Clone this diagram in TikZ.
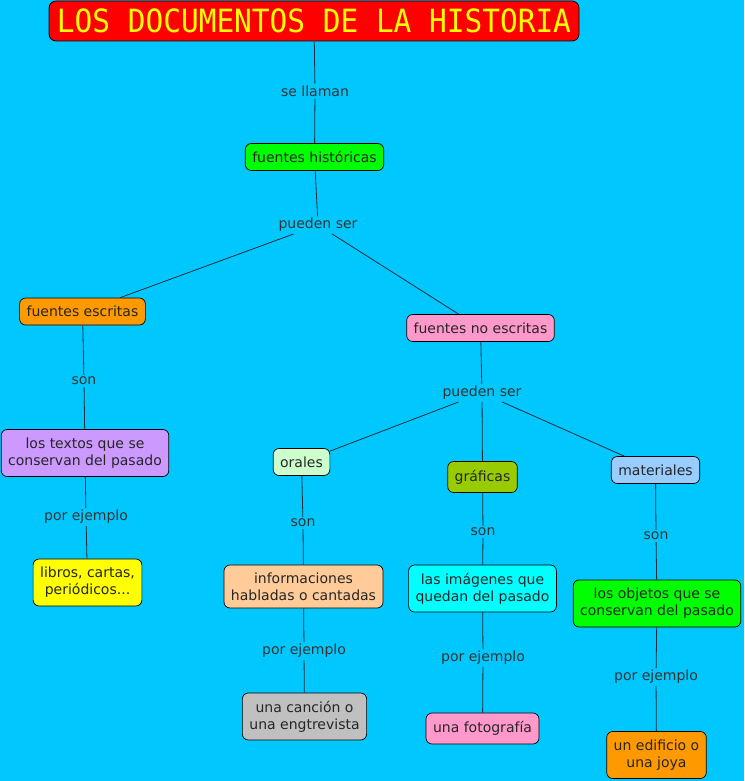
\documentclass[tikz,border=0pt]{standalone}
\usepackage{fontspec}
\setmainfont{DejaVu Sans}
\newfontfamily\titlefont[FakeStretch=0.92]{DejaVu Sans Mono}
\usepackage{xcolor}
\definecolor{mapsky}{HTML}{00C8FF}
\definecolor{mapline}{HTML}{1A2A3A}
\definecolor{cRed}{HTML}{FF0000}
\definecolor{cYellow}{HTML}{FFFF00}
\definecolor{cGreen}{HTML}{00FF00}
\definecolor{cCyan}{HTML}{00FFFF}
\definecolor{cOrange}{HTML}{FF9900}
\definecolor{cPink}{HTML}{FF99CC}
\definecolor{cLilac}{HTML}{CC99FF}
\definecolor{cMint}{HTML}{CCFFCC}
\definecolor{cOlive}{HTML}{99CC00}
\definecolor{cSky}{HTML}{99CCFF}
\definecolor{cPeach}{HTML}{FFCC99}
\definecolor{cSilver}{HTML}{C0C0C0}

\begin{document}
\begin{tikzpicture}[
      x=1pt, y=-1pt,
      concept/.style={
        draw = black,
        rounded corners = 6pt,
        align = center,
        font = \fontsize{14}{17}\selectfont,
        text = black!85,
        inner xsep = 7pt,
        inner ysep = 4pt,
        minimum height = 27pt,
        line width = .7pt,
      },
      twoline/.style={concept, minimum height = 47pt},
      tallone/.style={concept, minimum height = 31pt},
      phrase/.style={
        font = \fontsize{14}{16}\selectfont,
        text = black!80,
        inner sep = 2pt,
      },
      link/.style={draw = mapline, line width = .8pt},
      headline/.style={
        concept,
        fill = cRed,
        text = cYellow,
        rounded corners = 7pt,
        minimum width = 530pt,
        minimum height = 40pt,
        font = \titlefont\fontsize{32}{32}\selectfont,
      },
    ]
    \useasboundingbox[fill = mapsky] (0, 0) rectangle (744, 781);

    \node[headline] (title) at (314, 21) {LOS DOCUMENTOS DE LA HISTORIA};

    \node[concept, fill = cGreen] (fuentes) at (314.5, 157) {fuentes históricas};
    \node[concept, fill = cOrange] (escritas) at (82.5, 311.5) {fuentes escritas};
    \node[concept, fill = cPink] (noescritas) at (480.5, 328) {fuentes no escritas};

    \node[twoline, fill = cLilac] (textos) at (85, 453)
      {los textos que se\\conservan del pasado};
    \node[twoline, fill = cYellow] (libros) at (87.5, 582.5)
      {libros, cartas,\\periódicos...};

    \node[concept, fill = cMint] (orales) at (301.5, 462) {orales};
    \node[tallone, fill = cOlive] (graficas) at (482.5, 477) {gráficas};
    \node[concept, fill = cSky] (materiales) at (655.5, 470) {materiales};

    \node[twoline, minimum height = 43pt, fill = cPeach] (habladas) at (303.5, 586.5)
      {informaciones\\habladas o cantadas};
    \node[twoline, fill = cCyan] (imagenes) at (482.5, 588.5)
      {las imágenes que\\quedan del pasado};
    \node[twoline, fill = cGreen] (objetos) at (657, 603.5)
      {los objetos que se\\conservan del pasado};

    \node[twoline, fill = cSilver] (cancion) at (304.5, 716.5)
      {una canción o\\una engtrevista};
    \node[tallone, fill = cPink] (foto) at (482.5, 728.5) {una fotografía};
    \node[twoline, fill = cOrange] (edificio) at (656.5, 755)
      {un edificio o\\una joya};

    % linking phrases
    \node[phrase] (llaman) at (315, 91) {se llaman};
    \node[phrase] (pueden) at (318, 225) {pueden ser};
    \node[phrase] (son1) at (84, 381) {son};
    \node[phrase] (ej1) at (86, 517) {por ejemplo};
    \node[phrase] (pueden2) at (482, 393) {pueden ser};
    \node[phrase] (son2) at (303, 523) {son};
    \node[phrase] (son3) at (483, 532) {son};
    \node[phrase] (son4) at (656, 536) {son};
    \node[phrase] (ej2) at (304, 651) {por ejemplo};
    \node[phrase] (ej3) at (483, 658) {por ejemplo};
    \node[phrase] (ej4) at (656, 677) {por ejemplo};

    \draw[link] (title) -- (llaman) -- (fuentes);
    \draw[link] (fuentes) -- (pueden);
    \draw[link] (pueden) -- (escritas);
    \draw[link] (pueden) -- (noescritas);
    \draw[link] (escritas) -- (son1) -- (textos);
    \draw[link] (textos) -- (ej1) -- (libros);
    \draw[link] (noescritas) -- (pueden2);
    \draw[link] (pueden2) -- (orales);
    \draw[link] (pueden2) -- (graficas);
    \draw[link] (pueden2) -- (materiales);
    \draw[link] (orales) -- (son2) -- (habladas);
    \draw[link] (graficas) -- (son3) -- (imagenes);
    \draw[link] (materiales) -- (son4) -- (objetos);
    \draw[link] (habladas) -- (ej2) -- (cancion);
    \draw[link] (imagenes) -- (ej3) -- (foto);
    \draw[link] (objetos) -- (ej4) -- (edificio);
  \end{tikzpicture}
\end{document}
